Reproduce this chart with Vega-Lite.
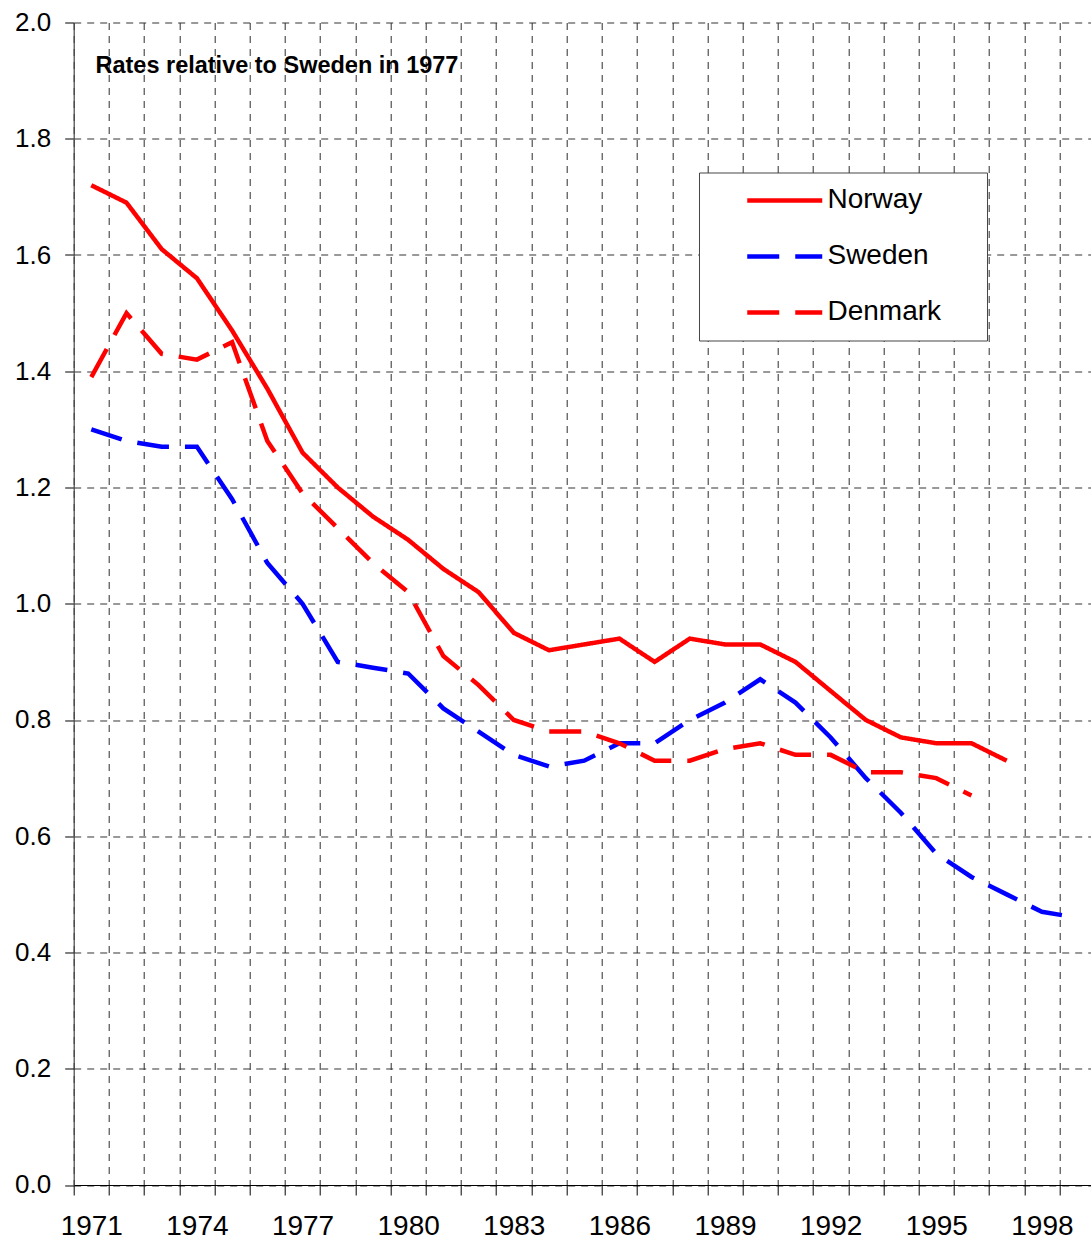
{
  "$schema": "https://vega.github.io/schema/vega-lite/v6.json",
  "width": 1021,
  "height": 1162.5,
  "autosize": "none",
  "padding": {"left": 73.7, "top": 22.5, "right": 0, "bottom": 59},
  "background": "white",
  "config": {"view": {"stroke": null}, "font": "Liberation Sans"},
  "layer": [
    {
      "data": {
        "values": [
          {"country": "Norway", "year": 1971, "value": 1.72},
          {"country": "Norway", "year": 1972, "value": 1.69},
          {"country": "Norway", "year": 1973, "value": 1.61},
          {"country": "Norway", "year": 1974, "value": 1.56},
          {"country": "Norway", "year": 1975, "value": 1.47},
          {"country": "Norway", "year": 1976, "value": 1.37},
          {"country": "Norway", "year": 1977, "value": 1.26},
          {"country": "Norway", "year": 1978, "value": 1.20},
          {"country": "Norway", "year": 1979, "value": 1.15},
          {"country": "Norway", "year": 1980, "value": 1.11},
          {"country": "Norway", "year": 1981, "value": 1.06},
          {"country": "Norway", "year": 1982, "value": 1.02},
          {"country": "Norway", "year": 1983, "value": 0.95},
          {"country": "Norway", "year": 1984, "value": 0.92},
          {"country": "Norway", "year": 1985, "value": 0.93},
          {"country": "Norway", "year": 1986, "value": 0.94},
          {"country": "Norway", "year": 1987, "value": 0.90},
          {"country": "Norway", "year": 1988, "value": 0.94},
          {"country": "Norway", "year": 1989, "value": 0.93},
          {"country": "Norway", "year": 1990, "value": 0.93},
          {"country": "Norway", "year": 1991, "value": 0.90},
          {"country": "Norway", "year": 1992, "value": 0.85},
          {"country": "Norway", "year": 1993, "value": 0.80},
          {"country": "Norway", "year": 1994, "value": 0.77},
          {"country": "Norway", "year": 1995, "value": 0.76},
          {"country": "Norway", "year": 1996, "value": 0.76},
          {"country": "Norway", "year": 1997, "value": 0.73},
          {"country": "Sweden", "year": 1971, "value": 1.30},
          {"country": "Sweden", "year": 1972, "value": 1.28},
          {"country": "Sweden", "year": 1973, "value": 1.27},
          {"country": "Sweden", "year": 1974, "value": 1.27},
          {"country": "Sweden", "year": 1975, "value": 1.18},
          {"country": "Sweden", "year": 1976, "value": 1.07},
          {"country": "Sweden", "year": 1977, "value": 1.00},
          {"country": "Sweden", "year": 1978, "value": 0.90},
          {"country": "Sweden", "year": 1979, "value": 0.89},
          {"country": "Sweden", "year": 1980, "value": 0.88},
          {"country": "Sweden", "year": 1981, "value": 0.82},
          {"country": "Sweden", "year": 1982, "value": 0.78},
          {"country": "Sweden", "year": 1983, "value": 0.74},
          {"country": "Sweden", "year": 1984, "value": 0.72},
          {"country": "Sweden", "year": 1985, "value": 0.73},
          {"country": "Sweden", "year": 1986, "value": 0.76},
          {"country": "Sweden", "year": 1987, "value": 0.76},
          {"country": "Sweden", "year": 1988, "value": 0.80},
          {"country": "Sweden", "year": 1989, "value": 0.83},
          {"country": "Sweden", "year": 1990, "value": 0.87},
          {"country": "Sweden", "year": 1991, "value": 0.83},
          {"country": "Sweden", "year": 1992, "value": 0.77},
          {"country": "Sweden", "year": 1993, "value": 0.70},
          {"country": "Sweden", "year": 1994, "value": 0.64},
          {"country": "Sweden", "year": 1995, "value": 0.57},
          {"country": "Sweden", "year": 1996, "value": 0.53},
          {"country": "Sweden", "year": 1997, "value": 0.50},
          {"country": "Sweden", "year": 1998, "value": 0.47},
          {"country": "Sweden", "year": 1999, "value": 0.46},
          {"country": "Denmark", "year": 1971, "value": 1.39},
          {"country": "Denmark", "year": 1972, "value": 1.50},
          {"country": "Denmark", "year": 1973, "value": 1.43},
          {"country": "Denmark", "year": 1974, "value": 1.42},
          {"country": "Denmark", "year": 1975, "value": 1.45},
          {"country": "Denmark", "year": 1976, "value": 1.28},
          {"country": "Denmark", "year": 1977, "value": 1.19},
          {"country": "Denmark", "year": 1978, "value": 1.13},
          {"country": "Denmark", "year": 1979, "value": 1.07},
          {"country": "Denmark", "year": 1980, "value": 1.02},
          {"country": "Denmark", "year": 1981, "value": 0.91},
          {"country": "Denmark", "year": 1982, "value": 0.86},
          {"country": "Denmark", "year": 1983, "value": 0.80},
          {"country": "Denmark", "year": 1984, "value": 0.78},
          {"country": "Denmark", "year": 1985, "value": 0.78},
          {"country": "Denmark", "year": 1986, "value": 0.76},
          {"country": "Denmark", "year": 1987, "value": 0.73},
          {"country": "Denmark", "year": 1988, "value": 0.73},
          {"country": "Denmark", "year": 1989, "value": 0.75},
          {"country": "Denmark", "year": 1990, "value": 0.76},
          {"country": "Denmark", "year": 1991, "value": 0.74},
          {"country": "Denmark", "year": 1992, "value": 0.74},
          {"country": "Denmark", "year": 1993, "value": 0.71},
          {"country": "Denmark", "year": 1994, "value": 0.71},
          {"country": "Denmark", "year": 1995, "value": 0.70},
          {"country": "Denmark", "year": 1996, "value": 0.67}
        ]
      },
      "mark": {"type": "line", "strokeWidth": 4.5, "clip": true},
      "encoding": {
        "x": {
          "field": "year",
          "type": "quantitative",
          "scale": {"domain": [1970.5, 1999.5], "nice": false, "zero": false},
          "axis": {
            "title": null,
            "values": [1970.5, 1971.5, 1972.5, 1973.5, 1974.5, 1975.5, 1976.5, 1977.5, 1978.5, 1979.5, 1980.5, 1981.5, 1982.5, 1983.5, 1984.5, 1985.5, 1986.5, 1987.5, 1988.5, 1989.5, 1990.5, 1991.5, 1992.5, 1993.5, 1994.5, 1995.5, 1996.5, 1997.5, 1998.5, 1999.5],
            "tickCount": 60,
            "labelExpr": "(datum.value + 0.5) % 3 == 0 ? '' + (datum.value + 0.5) : ''",
            "labelOffset": 17.6,
            "labelFontSize": 28,
            "labelFont": "Liberation Sans",
            "labelColor": "black",
            "labelPadding": 18,
            "labelOverlap": false,
            "labelFlush": false,
            "labelBound": false,
            "tickSize": 10,
            "tickColor": "black",
            "tickWidth": 1,
            "domainColor": "black",
            "domainWidth": 1.2,
            "grid": true,
            "gridColor": "#2a2a2a",
            "gridDash": [7, 6],
            "gridWidth": 1
          }
        },
        "y": {
          "field": "value",
          "type": "quantitative",
          "scale": {"domain": [0, 2], "nice": false, "zero": true},
          "axis": {
            "title": null,
            "values": [0, 0.2, 0.4, 0.6, 0.8, 1.0, 1.2, 1.4, 1.6, 1.8, 2.0],
            "tickCount": 20,
            "format": ".1f",
            "labelFontSize": 26,
            "labelFont": "Liberation Sans",
            "labelColor": "black",
            "labelPadding": 14,
            "labelOverlap": false,
            "labelFlush": false,
            "labelBound": false,
            "tickSize": 9,
            "tickColor": "black",
            "tickWidth": 1,
            "domainColor": "#444444",
            "domainWidth": 1.2,
            "grid": true,
            "gridColor": "#333333",
            "gridDash": [7, 6],
            "gridWidth": 1
          }
        },
        "color": {
          "field": "country",
          "type": "nominal",
          "scale": {"domain": ["Norway", "Sweden", "Denmark"], "range": ["#ff0000", "#0000ff", "#ff0000"]},
          "legend": {
            "title": "\u00a0",
            "titleOrient": "right",
            "titlePadding": 46,
            "titleFontSize": 10,
            "orient": "none",
            "legendX": 625.3,
            "legendY": 150,
            "direction": "vertical",
            "symbolType": "stroke",
            "symbolSize": 5625,
            "symbolStrokeWidth": 4.5,
            "clipHeight": 55.8,
            "rowPadding": 0,
            "padding": 0,
            "symbolOffset": 45.75,
            "labelOffset": 2.75,
            "labelFontSize": 28,
            "labelFont": "Liberation Sans",
            "labelColor": "black",
            "labelLimit": 400,
            "strokeColor": "#444444",
            "fillColor": "white"
          }
        },
        "strokeDash": {
          "field": "country",
          "type": "nominal",
          "scale": {"domain": ["Norway", "Sweden", "Denmark"], "range": [[1, 0], [32, 16], [32, 16]]},
          "legend": {
            "title": "\u00a0",
            "titleOrient": "right",
            "titlePadding": 46,
            "titleFontSize": 10,
            "orient": "none",
            "legendX": 625.3,
            "legendY": 150,
            "direction": "vertical",
            "symbolType": "stroke",
            "symbolSize": 5625,
            "symbolStrokeWidth": 4.5,
            "clipHeight": 55.8,
            "rowPadding": 0,
            "padding": 0,
            "symbolOffset": 45.75,
            "labelOffset": 2.75,
            "labelFontSize": 28,
            "labelFont": "Liberation Sans",
            "labelColor": "black",
            "labelLimit": 400,
            "strokeColor": "#444444",
            "fillColor": "white"
          }
        }
      }
    },
    {
      "data": {"values": [{"label": "Rates relative to Sweden in 1977", "year": 1971.12, "value": 1.9126}]},
      "mark": {"type": "text", "align": "left", "baseline": "alphabetic", "fontSize": 23.5, "fontWeight": "bold", "font": "Liberation Sans", "color": "black"},
      "encoding": {
        "x": {"field": "year", "type": "quantitative"},
        "y": {"field": "value", "type": "quantitative"},
        "text": {"field": "label"}
      }
    }
  ]
}
